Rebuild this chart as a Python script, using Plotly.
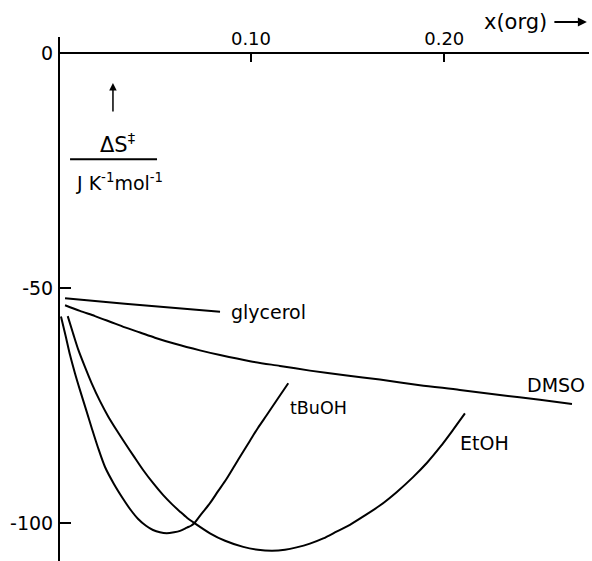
import plotly.graph_objects as go

# ---- data ----
glycerol_x = [0.0038, 0.0348, 0.0840]
glycerol_y = [-52.1, -53.3, -55.0]

dmso_x = [0.0038, 0.0115, 0.0193, 0.0271, 0.0348, 0.0426, 0.0503, 0.0607, 0.0736, 0.0840,
          0.0995, 0.1150, 0.1305, 0.1486, 0.1667, 0.1874, 0.2081, 0.2288, 0.2495, 0.2661]
dmso_y = [-53.6, -54.8, -55.9, -57.1, -58.3, -59.4, -60.5, -61.8, -63.2, -64.2,
          -65.5, -66.5, -67.5, -68.5, -69.4, -70.6, -71.6, -72.7, -73.7, -74.6]

tbuoh_x = [0.0017, 0.0040, 0.0064, 0.0089, 0.0115, 0.0146, 0.0176, 0.0208, 0.0245, 0.0291,
           0.0339, 0.0379, 0.0415, 0.0457, 0.0493, 0.0529, 0.0564, 0.0602, 0.0633, 0.0669,
           0.0690, 0.0710, 0.0736, 0.0788, 0.0829, 0.0874, 0.0933, 0.0995, 0.1036, 0.1081,
           0.1135, 0.1193]
tbuoh_y = [-56.0, -59.9, -64.2, -68.0, -71.6, -75.7, -79.7, -83.8, -88.0, -91.6,
           -94.8, -97.2, -99.0, -100.5, -101.4, -101.9, -102.1, -101.9, -101.6, -100.9,
           -100.5, -99.8, -98.4, -95.7, -93.2, -90.5, -86.5, -82.4, -79.7, -77.0,
           -73.7, -70.2]

etoh_x = [0.0052, 0.0079, 0.0107, 0.0141, 0.0176, 0.0219, 0.0262, 0.0307, 0.0348, 0.0395,
          0.0443, 0.0493, 0.0546, 0.0591, 0.0633, 0.0669, 0.0710, 0.0788, 0.0866, 0.0960,
          0.1036, 0.1109, 0.1176, 0.1236, 0.1305, 0.1374, 0.1445, 0.1512, 0.1590, 0.1667,
          0.1755, 0.1840, 0.1911, 0.1978, 0.2042, 0.2107]
etoh_y = [-55.9, -59.5, -63.1, -66.7, -70.2, -74.0, -77.3, -80.3, -82.9, -85.8,
          -88.7, -91.4, -94.0, -95.9, -97.5, -98.8, -100.0, -102.1, -103.7, -105.0,
          -105.6, -105.8, -105.6, -105.1, -104.3, -103.2, -101.7, -100.3, -98.3, -96.2,
          -93.3, -90.1, -87.1, -83.8, -80.3, -76.6]

x_ticks = [0.10, 0.20]
x_tick_text = ["0.10", "0.20"]
y_ticks = [0, -50, -100]
y_tick_text = ["0", "-50", "-100"]

XMIN, XMAX = 0.0012, 0.2749
YMIN, YMAX = -108.0, 3.47

FONT = "DejaVu Sans"

fig = go.Figure()
fig.add_trace(go.Scatter(x=glycerol_x, y=glycerol_y, mode="lines", line=dict(color="black", width=2),
                         showlegend=False, hoverinfo="skip"))
for xs, ys in [(dmso_x, dmso_y), (tbuoh_x, tbuoh_y), (etoh_x, etoh_y)]:
    fig.add_trace(go.Scatter(x=xs, y=ys, mode="lines",
                             line=dict(color="black", width=2, shape="spline", smoothing=0.8),
                             showlegend=False, hoverinfo="skip"))

curve_labels = [
    ("glycerol", 0.0887, -55.0, 19),
    ("DMSO", 0.2418, -70.6, 19),
    ("tBuOH", 0.1190, -75.5, 17.5),
    ("EtOH", 0.2071, -82.8, 19),
]
for txt, x, y, s in curve_labels:
    fig.add_annotation(x=x, y=y, text=txt, showarrow=False, xanchor="left", yanchor="middle",
                       font=dict(family=FONT, size=s, color="black"))

# y-axis label: arrow, ΔS‡, fraction bar, units
fig.add_annotation(x=0.0286, y=-6.3, ax=0.0286, ay=-12.7, axref="x", ayref="y", xref="x", yref="y",
                   text="", showarrow=True, arrowhead=2, arrowsize=1, arrowwidth=1.5, arrowcolor="black")
fig.add_annotation(x=0.0310, y=-19.0, text="ΔS<sup>‡</sup>", showarrow=False,
                   xanchor="center", yanchor="middle",
                   font=dict(family=FONT, size=21, color="black"))
fig.add_shape(type="line", x0=0.0064, x1=0.0514, y0=-22.55, y1=-22.55, line=dict(color="black", width=2))
fig.add_annotation(x=0.0322, y=-27.3, text="J K<sup>-1</sup>mol<sup>-1</sup>", showarrow=False,
                   xanchor="center", yanchor="middle",
                   font=dict(family=FONT, size=19, color="black"))

# x-axis title with arrow
fig.add_annotation(xref="paper", yref="paper", x=0.862, y=1.0286, text="x(org)", showarrow=False,
                   xanchor="center", yanchor="middle",
                   font=dict(family=FONT, size=21, color="black"))
fig.add_annotation(xref="paper", yref="paper", x=0.996, y=1.0286, ax=-34, ay=0, text="",
                   showarrow=True, arrowhead=2, arrowsize=1, arrowwidth=1.8, arrowcolor="black")

xpos = (0 - YMIN) / (YMAX - YMIN)

fig.update_layout(
    width=592, height=561,
    margin=dict(l=60, r=3, t=37, b=0),
    paper_bgcolor="white", plot_bgcolor="white",
    font=dict(family=FONT, size=17, color="black"),
    xaxis=dict(range=[XMIN, XMAX], anchor="free", position=xpos, side="top",
               showline=True, linecolor="black", linewidth=2,
               ticks="inside", ticklen=8, tickwidth=1.5, tickcolor="black",
               tickvals=x_ticks, ticktext=x_tick_text, showgrid=False, zeroline=False,
               tickfont=dict(family=FONT, size=18, color="black")),
    yaxis=dict(range=[YMIN, YMAX], showline=True, linecolor="black", linewidth=2,
               ticks="inside", ticklen=11, tickwidth=1.5, tickcolor="black",
               tickvals=y_ticks, ticktext=y_tick_text, showgrid=False, zeroline=False,
               ticklabelstandoff=1,
               tickfont=dict(family=FONT, size=19, color="black")),
)

fig.write_html("out.html")
